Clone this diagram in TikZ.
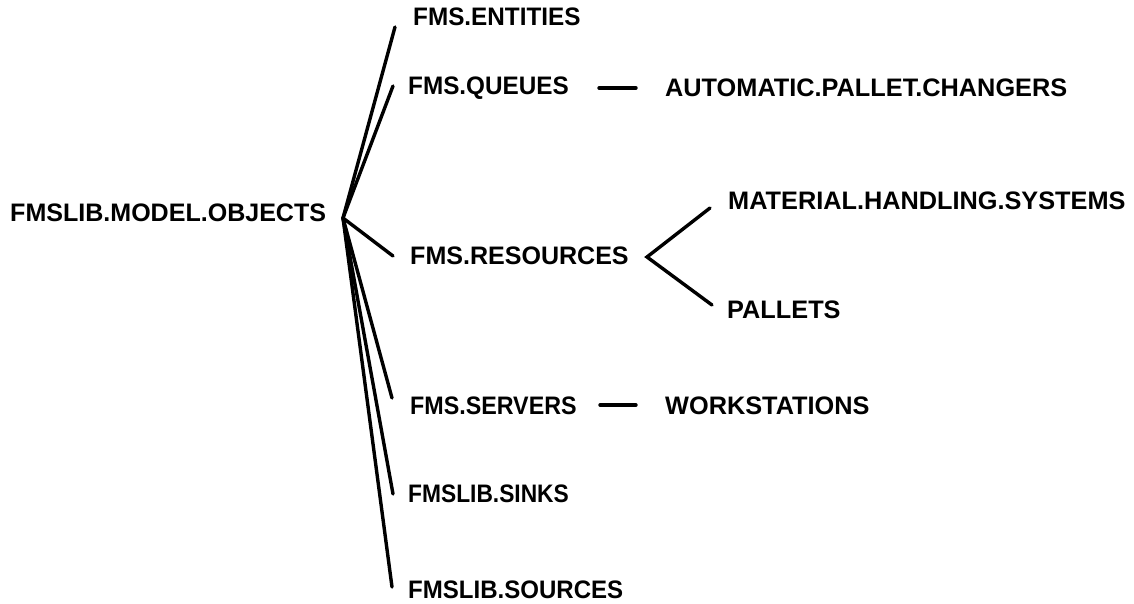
\documentclass[tikz,border=0pt]{standalone}
\usepackage{graphicx}
\usepackage{fontspec}
\setmainfont{Liberation Sans}
\newcommand{\hsq}[2]{\scalebox{#1}[1]{#2}}
\begin{document}
\begin{tikzpicture}[x=1pt,y=-1pt,
  lbl/.style={anchor=west,inner sep=0pt,font=\fontsize{25.3}{25.3}\selectfont\bfseries},
  edge/.style={line width=3.4pt,line cap=round}]
\useasboundingbox (0,0) rectangle (1134,604);
\node[lbl] (root) at (10,213) {\hsq{0.99}{FMSLIB.MODEL.OBJECTS}};
\coordinate (hub) at (343,218);
\node[lbl] (ent) at (413,17) {\hsq{0.96}{FMS.ENTITIES}};
\node[lbl] (que) at (408,88) {\hsq{0.96}{FMS.QUEUES}};
\node[lbl] (res) at (410,256) {\hsq{0.99}{FMS.RESOURCES}};
\node[lbl] (ser) at (410,406) {\hsq{0.92}{FMS.SERVERS}};
\node[lbl] (sin) at (408,494) {\hsq{0.9}{FMSLIB.SINKS}};
\node[lbl] (sou) at (408,590) {\hsq{0.95}{FMSLIB.SOURCES}};
\node[lbl] (apc) at (665,88) {AUTOMATIC.PALLET.CHANGERS};
\node[lbl] (mhs) at (728,201) {MATERIAL.HANDLING.SYSTEMS};
\node[lbl] (pal) at (727,310) {PALLETS};
\node[lbl] (wks) at (665,406) {WORKSTATIONS};
\coordinate (ee) at (395,27);
\coordinate (qe) at (393,86);
\coordinate (re) at (393,256);
\coordinate (se) at (392,398);
\coordinate (ke) at (393,494);
\coordinate (oe) at (392,587);
\draw[edge] (hub) -- (ee);
\draw[edge] (hub) -- (qe);
\draw[edge] (hub) -- (re);
\draw[edge] (hub) -- (se);
\draw[edge] (hub) -- (ke);
\draw[edge] (hub) -- (oe);
\coordinate (apex) at (647,257);
\coordinate (mhsE) at (710,208);
\coordinate (palE) at (712,305);
\draw[edge] (mhsE) -- (apex) -- (palE);
\coordinate (q1) at (599,88);
\coordinate (q2) at (636,88);
\draw[edge] (q1) -- (q2);
\coordinate (s1) at (600,405);
\coordinate (s2) at (636,405);
\draw[edge] (s1) -- (s2);
\end{tikzpicture}
\end{document}
